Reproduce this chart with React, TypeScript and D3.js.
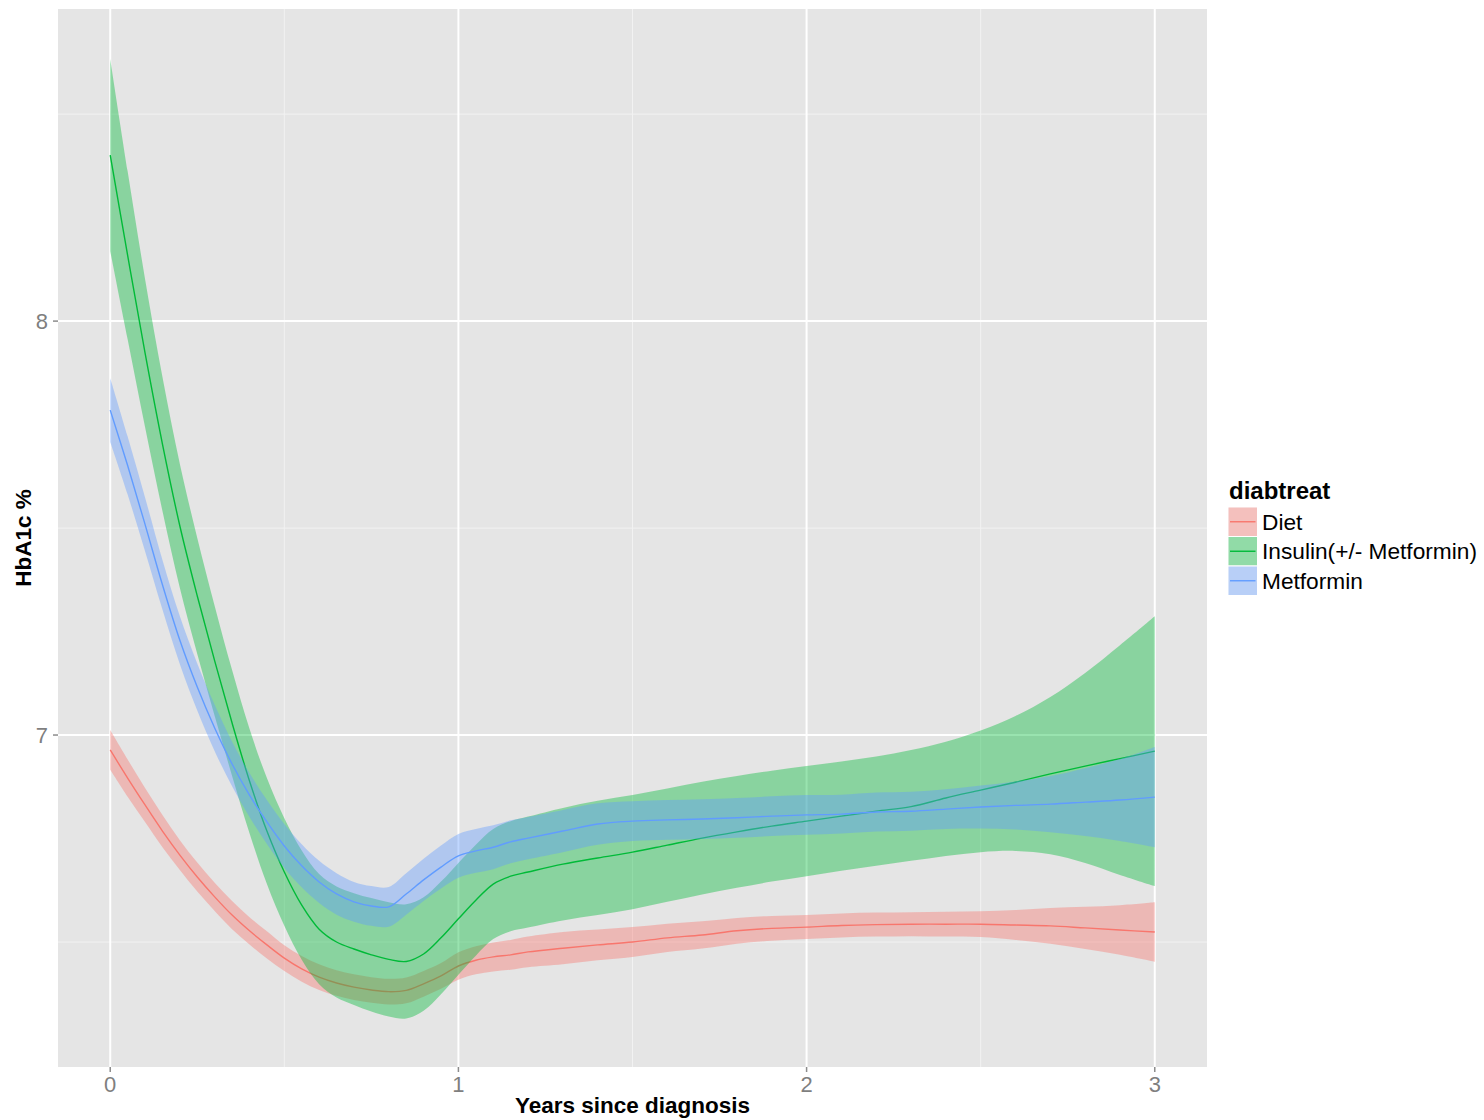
import * as d3 from "d3";
import { useEffect, useRef } from "react";

// years since diagnosis (sample points of the smooth)
const years = [
  0, 0.05, 0.1, 0.15, 0.2, 0.25, 0.3, 0.35, 0.4, 0.45, 0.5, 0.55, 0.6, 0.65, 0.7, 0.75, 0.8, 0.85, 0.9,
  0.95, 1.0, 1.05, 1.1, 1.15, 1.2, 1.3, 1.4, 1.5, 1.6, 1.7, 1.8, 1.9, 2.0, 2.1, 2.2, 2.3, 2.4, 2.5, 2.6,
  2.7, 2.8, 2.9, 3.0,
];

const dietFit = [
  6.964, 6.896, 6.831, 6.768, 6.71, 6.657, 6.609, 6.565, 6.527, 6.493, 6.461, 6.435, 6.415, 6.401, 6.391,
  6.384, 6.38, 6.383, 6.399, 6.418, 6.442, 6.456, 6.464, 6.469, 6.476, 6.485, 6.493, 6.5, 6.51, 6.517,
  6.527, 6.533, 6.536, 6.54, 6.542, 6.543, 6.543, 6.543, 6.541, 6.539, 6.534, 6.529, 6.524,
];
const dietLo = [
  6.916, 6.851, 6.79, 6.729, 6.674, 6.622, 6.575, 6.531, 6.494, 6.46, 6.43, 6.404, 6.384, 6.37, 6.36,
  6.353, 6.349, 6.352, 6.368, 6.387, 6.409, 6.422, 6.429, 6.433, 6.439, 6.446, 6.456, 6.464, 6.476,
  6.484, 6.496, 6.503, 6.507, 6.511, 6.513, 6.514, 6.513, 6.512, 6.505, 6.496, 6.483, 6.469, 6.452,
];
const dietHi = [
  7.012, 6.941, 6.872, 6.807, 6.746, 6.692, 6.643, 6.599, 6.56, 6.526, 6.492, 6.466, 6.446, 6.432, 6.422,
  6.415, 6.411, 6.414, 6.43, 6.449, 6.475, 6.49, 6.499, 6.505, 6.513, 6.524, 6.53, 6.536, 6.544, 6.55,
  6.558, 6.563, 6.565, 6.569, 6.571, 6.572, 6.573, 6.574, 6.577, 6.582, 6.585, 6.589, 6.596,
];

const insulinFit = [
  8.401, 8.159, 7.923, 7.703, 7.505, 7.336, 7.179, 7.029, 6.889, 6.768, 6.669, 6.589, 6.531, 6.5, 6.483,
  6.469, 6.458, 6.453, 6.471, 6.51, 6.556, 6.601, 6.64, 6.659, 6.669, 6.688, 6.703, 6.717, 6.734, 6.751,
  6.766, 6.78, 6.792, 6.804, 6.816, 6.827, 6.848, 6.867, 6.886, 6.906, 6.925, 6.943, 6.961,
];
const insulinLo = [
  8.169, 7.956, 7.744, 7.541, 7.355, 7.196, 7.046, 6.901, 6.763, 6.64, 6.539, 6.457, 6.398, 6.366, 6.348,
  6.332, 6.32, 6.315, 6.334, 6.374, 6.421, 6.467, 6.507, 6.526, 6.535, 6.552, 6.565, 6.579, 6.597, 6.615,
  6.631, 6.646, 6.659, 6.672, 6.684, 6.696, 6.708, 6.717, 6.72, 6.712, 6.691, 6.662, 6.635,
];
const insulinHi = [
  8.633, 8.362, 8.102, 7.865, 7.655, 7.476, 7.312, 7.157, 7.015, 6.896, 6.799, 6.721, 6.664, 6.634, 6.618,
  6.606, 6.596, 6.591, 6.608, 6.646, 6.691, 6.735, 6.773, 6.792, 6.803, 6.824, 6.841, 6.855, 6.871, 6.887,
  6.901, 6.914, 6.925, 6.936, 6.948, 6.964, 6.984, 7.011, 7.046, 7.092, 7.15, 7.217, 7.287,
];

const metforminFit = [
  7.785, 7.651, 7.509, 7.363, 7.229, 7.116, 7.017, 6.93, 6.855, 6.79, 6.732, 6.684, 6.645, 6.616, 6.597,
  6.587, 6.585, 6.616, 6.65, 6.681, 6.708, 6.72, 6.729, 6.742, 6.751, 6.768, 6.785, 6.792, 6.795, 6.797,
  6.8, 6.804, 6.807, 6.809, 6.814, 6.816, 6.821, 6.826, 6.83, 6.833, 6.838, 6.843, 6.85,
];
const metforminLo = [
  7.708, 7.581, 7.444, 7.303, 7.171, 7.059, 6.961, 6.876, 6.802, 6.737, 6.679, 6.632, 6.594, 6.566, 6.549,
  6.539, 6.537, 6.566, 6.599, 6.629, 6.655, 6.667, 6.676, 6.69, 6.7, 6.717, 6.735, 6.744, 6.747, 6.749,
  6.752, 6.756, 6.759, 6.762, 6.767, 6.769, 6.773, 6.774, 6.772, 6.765, 6.756, 6.744, 6.729,
];
const metforminHi = [
  7.862, 7.721, 7.574, 7.423, 7.287, 7.173, 7.073, 6.984, 6.908, 6.843, 6.785, 6.736, 6.696, 6.666, 6.645,
  6.635, 6.633, 6.666, 6.701, 6.733, 6.761, 6.773, 6.782, 6.794, 6.802, 6.819, 6.835, 6.84, 6.843, 6.845,
  6.848, 6.852, 6.855, 6.856, 6.861, 6.863, 6.869, 6.878, 6.888, 6.901, 6.92, 6.942, 6.971,
];

const groups = ["Diet", "Insulin(+/- Metformin)", "Metformin"];
const colors = ["#F8766D", "#00BA38", "#619CFF"];
const xTicks = [0, 1, 2, 3];
const xMinor = [0.5, 1.5, 2.5];
const yTicks = [7, 8];
const yMinor = [6.5, 7.5, 8.5];

type Pt = { x: number; fit: number; lo: number; hi: number };

export default function App() {
  const svgRef = useRef<SVGSVGElement | null>(null);

  useEffect(() => {
    document.body.style.margin = "0";
    const width = 1484;
    const height = 1120;
    const panel = { left: 58, right: 1207, top: 9, bottom: 1067 };

    const svg = d3.select(svgRef.current);
    svg.selectAll("*").remove();
    svg.attr("width", width).attr("height", height);

    const x = d3.scaleLinear().domain([-0.15, 3.15]).range([panel.left, panel.right]);
    const y = d3.scaleLinear().domain([6.198, 8.754]).range([panel.bottom, panel.top]);

    svg.append("rect").attr("width", width).attr("height", height).attr("fill", "#ffffff");

    svg
      .append("rect")
      .attr("x", panel.left)
      .attr("y", panel.top)
      .attr("width", panel.right - panel.left)
      .attr("height", panel.bottom - panel.top)
      .attr("fill", "#E5E5E5");

    const grid = svg.append("g");
    grid
      .selectAll(".ymin")
      .data(yMinor)
      .enter()
      .append("line")
      .attr("x1", panel.left)
      .attr("x2", panel.right)
      .attr("y1", (d) => y(d))
      .attr("y2", (d) => y(d))
      .attr("stroke", "#F2F2F2")
      .attr("stroke-width", 1);
    grid
      .selectAll(".xmin")
      .data(xMinor)
      .enter()
      .append("line")
      .attr("y1", panel.top)
      .attr("y2", panel.bottom)
      .attr("x1", (d) => x(d))
      .attr("x2", (d) => x(d))
      .attr("stroke", "#F2F2F2")
      .attr("stroke-width", 1);
    grid
      .selectAll(".ymaj")
      .data(yTicks)
      .enter()
      .append("line")
      .attr("x1", panel.left)
      .attr("x2", panel.right)
      .attr("y1", (d) => y(d))
      .attr("y2", (d) => y(d))
      .attr("stroke", "#ffffff")
      .attr("stroke-width", 2);
    grid
      .selectAll(".xmaj")
      .data(xTicks)
      .enter()
      .append("line")
      .attr("y1", panel.top)
      .attr("y2", panel.bottom)
      .attr("x1", (d) => x(d))
      .attr("x2", (d) => x(d))
      .attr("stroke", "#ffffff")
      .attr("stroke-width", 2);

    const series: Pt[][] = [
      years.map((t, i) => ({ x: t, fit: dietFit[i], lo: dietLo[i], hi: dietHi[i] })),
      years.map((t, i) => ({ x: t, fit: insulinFit[i], lo: insulinLo[i], hi: insulinHi[i] })),
      years.map((t, i) => ({ x: t, fit: metforminFit[i], lo: metforminLo[i], hi: metforminHi[i] })),
    ];

    const curve = d3.curveCatmullRom.alpha(0.5);

    const area = d3
      .area<Pt>()
      .x((d) => x(d.x))
      .y0((d) => y(d.lo))
      .y1((d) => y(d.hi))
      .curve(curve);

    const line = d3
      .line<Pt>()
      .x((d) => x(d.x))
      .y((d) => y(d.fit))
      .curve(curve);

    // each group: ribbon then line, in legend order
    series.forEach((s, i) => {
      svg.append("path").datum(s).attr("d", area).attr("fill", colors[i]).attr("fill-opacity", 0.4);
      svg
        .append("path")
        .datum(s)
        .attr("d", line)
        .attr("fill", "none")
        .attr("stroke", colors[i])
        .attr("stroke-width", 1.4);
    });

    // axes
    const tickColor = "#8C8C8C";
    const labelColor = "#7F7F7F";
    const font = "'Liberation Sans', Arial, sans-serif";

    svg
      .selectAll(".xtick")
      .data(xTicks)
      .enter()
      .append("line")
      .attr("x1", (d) => x(d))
      .attr("x2", (d) => x(d))
      .attr("y1", panel.bottom)
      .attr("y2", panel.bottom + 5)
      .attr("stroke", tickColor)
      .attr("stroke-width", 1.5);
    svg
      .selectAll(".xlab")
      .data(xTicks)
      .enter()
      .append("text")
      .attr("x", (d) => x(d))
      .attr("y", panel.bottom + 25)
      .attr("text-anchor", "middle")
      .attr("font-family", font)
      .attr("font-size", 22)
      .attr("fill", labelColor)
      .text((d) => d);

    svg
      .selectAll(".ytick")
      .data(yTicks)
      .enter()
      .append("line")
      .attr("x1", panel.left - 5)
      .attr("x2", panel.left)
      .attr("y1", (d) => y(d))
      .attr("y2", (d) => y(d))
      .attr("stroke", tickColor)
      .attr("stroke-width", 1.5);
    svg
      .selectAll(".ylab")
      .data(yTicks)
      .enter()
      .append("text")
      .attr("x", panel.left - 10)
      .attr("y", (d) => y(d) + 8)
      .attr("text-anchor", "end")
      .attr("font-family", font)
      .attr("font-size", 22)
      .attr("fill", labelColor)
      .text((d) => d);

    svg
      .append("text")
      .attr("x", (panel.left + panel.right) / 2)
      .attr("y", 1113)
      .attr("text-anchor", "middle")
      .attr("font-family", font)
      .attr("font-weight", "bold")
      .attr("font-size", 22.5)
      .attr("fill", "#000")
      .text("Years since diagnosis");

    svg
      .append("text")
      .attr("transform", `translate(31,${(panel.top + panel.bottom) / 2}) rotate(-90)`)
      .attr("text-anchor", "middle")
      .attr("font-family", font)
      .attr("font-weight", "bold")
      .attr("font-size", 22.5)
      .attr("fill", "#000")
      .text("HbA1c %");

    // legend
    const lg = svg.append("g").attr("transform", "translate(1228,507)");
    const keySize = 29.5;
    lg.append("text")
      .attr("x", 1)
      .attr("y", -8)
      .attr("font-family", font)
      .attr("font-weight", "bold")
      .attr("font-size", 24)
      .attr("fill", "#000")
      .text("diabtreat");

    const items = lg
      .selectAll(".key")
      .data(groups)
      .enter()
      .append("g")
      .attr("transform", (_d, i) => `translate(0,${i * keySize})`);
    items
      .append("rect")
      .attr("width", keySize)
      .attr("height", keySize)
      .attr("fill", "#F2F2F2")
      .attr("stroke", "#ffffff")
      .attr("stroke-width", 1);
    items
      .append("rect")
      .attr("x", 0.5)
      .attr("y", 0.5)
      .attr("width", keySize - 1)
      .attr("height", keySize - 1)
      .attr("fill", (_d, i) => colors[i])
      .attr("fill-opacity", 0.4);
    items
      .append("line")
      .attr("x1", 2)
      .attr("x2", keySize - 2)
      .attr("y1", keySize / 2)
      .attr("y2", keySize / 2)
      .attr("stroke", (_d, i) => colors[i])
      .attr("stroke-width", 1.4);
    items
      .append("text")
      .attr("x", keySize + 4.5)
      .attr("y", keySize / 2 + 8)
      .attr("font-family", font)
      .attr("font-size", 22.7)
      .attr("fill", "#000")
      .text((d) => d);
  }, []);

  return <svg ref={svgRef}></svg>;
}
